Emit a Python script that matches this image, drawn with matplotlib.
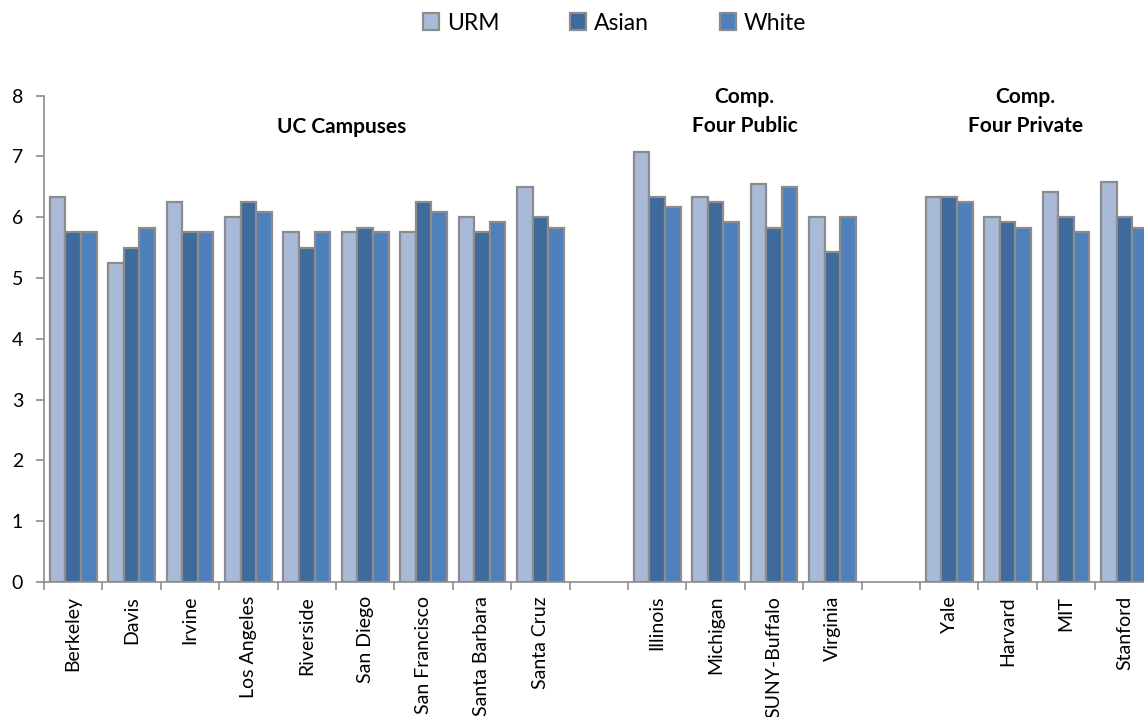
import matplotlib
matplotlib.use("Agg")
import matplotlib.pyplot as plt
from matplotlib.ticker import FixedLocator
import numpy as np

plt.rcParams['font.family'] = ['Lato', 'DejaVu Sans']

categories = ["Berkeley", "Davis", "Irvine", "Los Angeles", "Riverside", "San Diego",
              "San Francisco", "Santa Barbara", "Santa Cruz", "",
              "Illinois", "Michigan", "SUNY-Buffalo", "Virginia", "",
              "Yale", "Harvard", "MIT", "Stanford"]
urm   = [6.33, 5.25, 6.25, 6.00, 5.75, 5.75, 5.75, 6.00, 6.50, np.nan,
         7.08, 6.33, 6.54, 6.00, np.nan,
         6.33, 6.00, 6.42, 6.58]
asian = [5.75, 5.50, 5.75, 6.25, 5.50, 5.83, 6.25, 5.75, 6.00, np.nan,
         6.33, 6.25, 5.83, 5.42, np.nan,
         6.33, 5.92, 6.00, 6.00]
white = [5.75, 5.83, 5.75, 6.08, 5.75, 5.75, 6.08, 5.92, 5.83, np.nan,
         6.17, 5.92, 6.50, 6.00, np.nan,
         6.25, 5.83, 5.75, 5.83]
series_names = ["URM", "Asian", "White"]
group_labels = ["UC Campuses", "Comp.\nFour Public", "Comp.\nFour Private"]

colors = ["#A9B9D8", "#3E6A9C", "#4E80BC"]
edge = "#8C8C8C"

fig = plt.figure(figsize=(11.44, 7.17), dpi=100)
ax = fig.add_axes([44/1144, 135/717, 19*58.4/1144, 486.4/717])

x = np.arange(len(categories)) + 0.5
w = 0.267
containers = []
for i, (vals, name, c) in enumerate(zip([urm, asian, white], series_names, colors)):
    bc = ax.bar(x + (i - 1) * w, vals, width=w, color=c, edgecolor=edge, linewidth=1.6,
                label=name)
    containers.append(bc)

ax.set_xlim(0, len(categories))
ax.set_ylim(0, 8)
ax.set_yticks(range(0, 9))
ax.tick_params(axis='y', labelsize=14, length=6, width=1.2, color=edge, pad=9, direction='out')
ax.set_xticks(x)
ax.set_xticklabels(categories, rotation=90, fontsize=14, va='top', ha='center')
ax.tick_params(axis='x', which='major', length=0, pad=10)
ax.xaxis.set_minor_locator(FixedLocator(np.arange(0, len(categories) + 1)))
ax.tick_params(axis='x', which='minor', length=6, width=1.2, color=edge, direction='out')

for s in ['top', 'right']:
    ax.spines[s].set_visible(False)
for s in ['left', 'bottom']:
    ax.spines[s].set_color(edge)
    ax.spines[s].set_linewidth(1.2)

ax.text(5.09, 7.48, group_labels[0], ha='center', va='center', fontsize=15, fontweight='bold')
ax.text(12.0, 7.74, group_labels[1], ha='center', va='center', fontsize=15, fontweight='bold',
        linespacing=1.55)
ax.text(16.8, 7.74, group_labels[2], ha='center', va='center', fontsize=15, fontweight='bold',
        linespacing=1.55)

legend_x = [423, 570, 720]
for bc, name, lx in zip(containers, series_names, legend_x):
    lg = fig.legend([bc], [name], loc='center left', bbox_to_anchor=(lx/1144, 1 - 23/717),
                    frameon=False, fontsize=16.5, handlelength=0.7, handleheight=0.7,
                    handletextpad=0.35, borderpad=0, borderaxespad=0)

fig.savefig("out.png", dpi=100)
